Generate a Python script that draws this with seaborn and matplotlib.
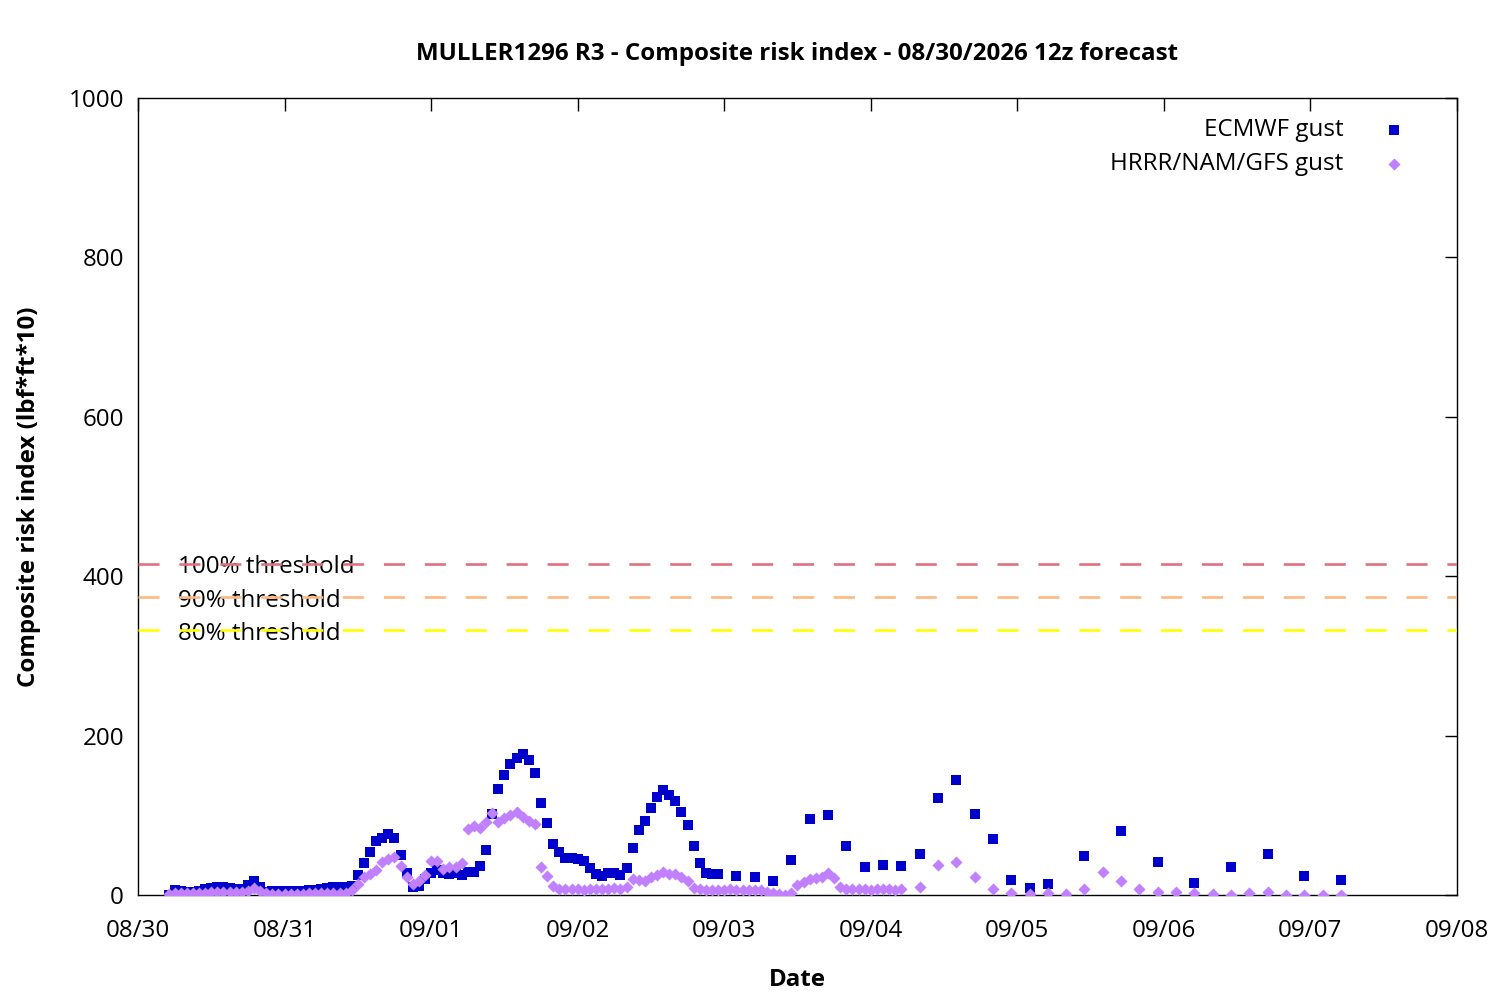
import pandas as pd
import matplotlib.pyplot as plt
import matplotlib.dates as mdates
import seaborn as sns

# Forecast run start (local axis origin) and hours after 08/30 00:00
start = pd.Timestamp('2026-08-30 00:00')

ecmwf_hours = list(range(5, 96)) + list(range(98, 150, 3)) + list(range(155, 198, 6))
ecmwf_gust = [
    0, 6, 5, 4, 4, 5, 7, 9, 10, 10,
    9, 7, 7, 12, 17, 10, 4, 5, 5, 5,
    5, 5, 5, 6, 6, 8, 9, 10, 10, 10,
    11, 25, 40, 54, 68, 72, 77, 72, 50, 28,
    10, 11, 20, 28, 31, 27, 26, 27, 25, 29,
    29, 36, 57, 102, 133, 151, 164, 172, 177, 169,
    153, 115, 90, 64, 54, 46, 46, 45, 43, 34,
    26, 24, 27, 27, 25, 34, 59, 81, 93, 109,
    123, 132, 125, 118, 104, 88, 62, 40, 27, 26,
    26,
    # 3-hourly
    24, 23, 18, 44, 95, 100, 61, 35, 38, 36, 52, 122, 144, 102, 70, 19, 9, 14,
    # 6-hourly
    49, 80, 41, 15, 35, 51, 24, 19,
]

hrrr_hours = list(range(5, 126)) + list(range(128, 198, 3))
hrrr_gust = [
    1, 2, 3, 2, 2, 3, 3, 4, 4, 4,
    4, 4, 4, 5, 9, 5, 2, 1, 1, 1,
    1, 1, 1, 2, 2, 2, 3, 3, 3, 3,
    6, 14, 23, 26, 31, 41, 45, 48, 37, 23,
    14, 18, 25, 43, 43, 33, 35, 35, 40, 83,
    86, 84, 92, 103, 92, 97, 101, 104, 98, 93,
    89, 35, 24, 11, 8, 7, 7, 7, 6, 7,
    7, 8, 8, 9, 8, 10, 20, 19, 18, 23,
    25, 29, 26, 26, 22, 18, 9, 7, 6, 6,
    6, 6, 7, 6, 6, 6, 6, 6, 4, 2,
    1, 0, 3, 12, 16, 20, 21, 23, 28, 21,
    10, 8, 7, 7, 7, 6, 7, 7, 7, 6,
    7,
    # 3-hourly
    10, 38, 42, 23, 7, 3, 1, 3, 1, 7, 29, 18,
    8, 4, 4, 3, 1, 0, 3, 4, 0, 0, 0, 0,
]

threshold = 415
threshold_fracs = [1.0, 0.9, 0.8]
threshold_labels = ['100% threshold', '90% threshold', '80% threshold']
threshold_colors = ['#e0707f', '#ffb880', '#ffff00']

ecmwf = pd.DataFrame({'Date': start + pd.to_timedelta(ecmwf_hours, unit='h'),
                      'gust': ecmwf_gust})
hrrr = pd.DataFrame({'Date': start + pd.to_timedelta(hrrr_hours, unit='h'),
                     'gust': hrrr_gust})

sns.set_theme(style='white')
plt.rcParams['font.family'] = ['Open Sans', 'DejaVu Sans']
plt.rcParams['text.color'] = 'black'
plt.rcParams['axes.labelcolor'] = 'black'
plt.rcParams['xtick.color'] = 'black'
plt.rcParams['ytick.color'] = 'black'

fs = 17.4

fig = plt.figure(figsize=(15, 10), dpi=100)
ax = fig.add_axes([0.092, 0.105, 0.8793, 0.797])

# thresholds
for frac, lab, col in zip(threshold_fracs, threshold_labels, threshold_colors):
    ax.axhline(threshold * frac, color=col, lw=1.9, dashes=(8, 7.5), zorder=3)
    ax.text(0.0303, threshold * frac - 4, lab, transform=ax.get_yaxis_transform(),
            fontsize=fs, va='center', ha='left', zorder=2)

sns.scatterplot(data=ecmwf, x='Date', y='gust', marker='s', s=42, color='#0000cc',
                linewidth=0, ax=ax, label='ECMWF gust', zorder=4)
sns.scatterplot(data=hrrr, x='Date', y='gust', marker='D', s=38, color='#c080ff',
                linewidth=0, ax=ax, label='HRRR/NAM/GFS gust', zorder=5)

ax.set_xlim(pd.Timestamp('2026-08-30'), pd.Timestamp('2026-09-08'))
ax.set_ylim(0, 1000)
ax.set_yticks([0, 200, 400, 600, 800, 1000])
ax.xaxis.set_major_locator(mdates.DayLocator())
ax.xaxis.set_major_formatter(mdates.DateFormatter('%m/%d'))

ax.tick_params(direction='in', length=9, width=1, top=True, right=True,
               labelsize=fs)
ax.tick_params(axis='x', pad=17)
ax.tick_params(axis='y', pad=10)
for s in ax.spines.values():
    s.set_color('black')
    s.set_linewidth(1)

ax.set_title('MULLER1296 R3 - Composite risk index - 08/30/2026 12z forecast',
             fontsize=fs, fontweight='bold', pad=27)
ax.set_xlabel('Date', fontsize=fs, fontweight='bold', labelpad=18)
ax.set_ylabel('Composite risk index (lbf*ft*10)', fontsize=fs, fontweight='bold', labelpad=20)

ax.legend(loc='upper right', bbox_to_anchor=(0.978, 0.987), frameon=False,
          markerfirst=False, fontsize=fs, handletextpad=1.1, labelspacing=0.42,
          borderaxespad=0)

fig.savefig('out.png', dpi=100)
